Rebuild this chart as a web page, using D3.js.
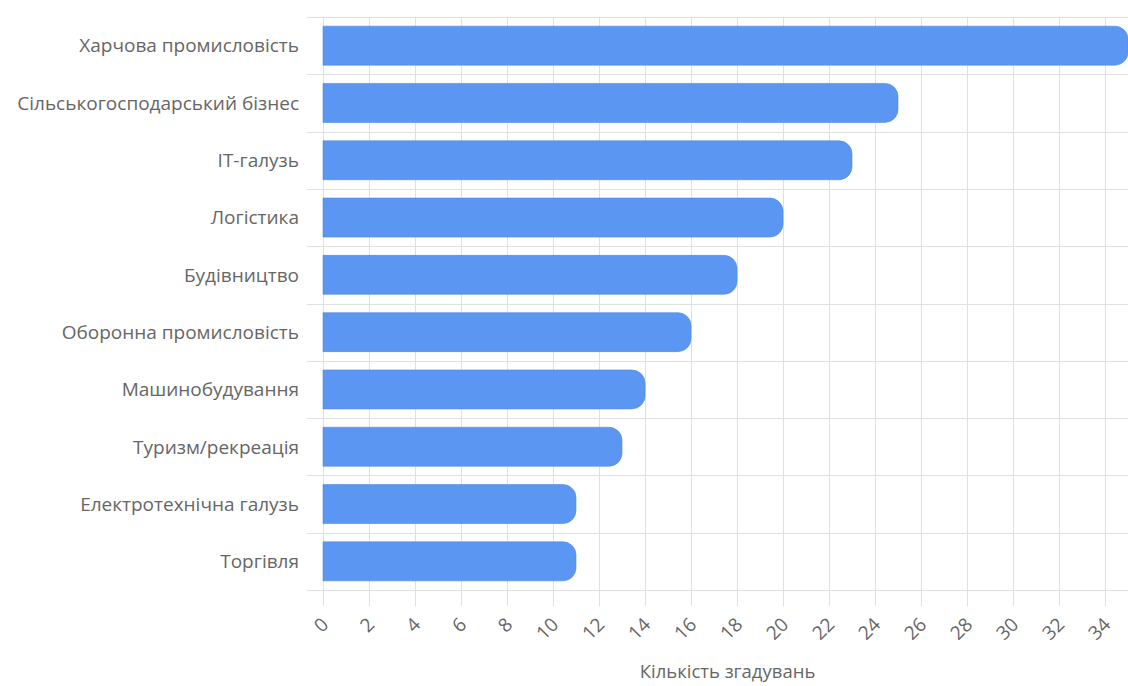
<!DOCTYPE html>
<html>
<head>
<meta charset="utf-8">
<script src="https://cdn.jsdelivr.net/npm/d3@7"></script>
<style>
  html, body { margin: 0; padding: 0; background: #fff; }
  svg { display: block; }
  text { font-family: "Open Sans", "Noto Sans", sans-serif; }
</style>
</head>
<body>
<svg id="chart" width="1128" height="686"></svg>
<script>
// Industries and number of mentions
const categories = [
  "Харчова промисловість",
  "Сільськогосподарський бізнес",
  "IT-галузь",
  "Логістика",
  "Будівництво",
  "Оборонна промисловість",
  "Машинобудування",
  "Туризм/рекреація",
  "Електротехнічна галузь",
  "Торгівля"
];
const mentions = [35, 25, 23, 20, 18, 16, 14, 13, 11, 11];
const xTicks = [0, 2, 4, 6, 8, 10, 12, 14, 16, 18, 20, 22, 24, 26, 28, 30, 32, 34];
const xTitle = "Кількість згадувань";

const svg = d3.select("#chart");
const margin = { top: 17, right: 0, bottom: 96, left: 323 };
const W = 1128, H = 686;
const innerW = W - margin.left - margin.right;
const innerH = H - margin.top - margin.bottom;

const x = d3.scaleLinear().domain([0, 35]).range([0, innerW]);
const y = d3.scaleBand().domain(categories).range([0, innerH]).paddingInner(0.32).paddingOuter(0.16);

const g = svg.append("g").attr("transform", `translate(${margin.left},${margin.top})`);
const gridColor = "#e0e0e0";
const textColor = "#666";
const tickLen = 16;

// vertical grid lines (with tick extension below the plot)
g.append("g").selectAll("line").data(xTicks).join("line")
  .attr("x1", d => x(d) + 0.5).attr("x2", d => x(d) + 0.5)
  .attr("y1", 0).attr("y2", innerH + tickLen)
  .attr("stroke", gridColor).attr("stroke-width", 1);

// horizontal band boundaries (with tick extension left of the plot)
const boundaries = d3.range(categories.length + 1).map(i => i * innerH / categories.length);
g.append("g").selectAll("line").data(boundaries).join("line")
  .attr("x1", -tickLen).attr("x2", innerW)
  .attr("y1", d => Math.round(d) + 0.5).attr("y2", d => Math.round(d) + 0.5)
  .attr("stroke", gridColor).attr("stroke-width", 1);

// bars with rounded right end
const r = 13;
function barPath(w, h) {
  const rr = Math.min(r, h / 2, w);
  return `M0,0 H${w - rr} A${rr},${rr} 0 0 1 ${w},${rr} V${h - rr} A${rr},${rr} 0 0 1 ${w - rr},${h} H0 Z`;
}
g.append("g").selectAll("path").data(categories).join("path")
  .attr("transform", (d) => `translate(0,${y(d)})`)
  .attr("d", (d, i) => barPath(x(mentions[i]), y.bandwidth()))
  .attr("fill", "#5b96f2")
  .attr("stroke", "#4f88e0")
  .attr("stroke-width", 0.6);

// category labels
g.append("g").selectAll("text").data(categories).join("text")
  .attr("x", -24)
  .attr("y", d => y(d) + y.bandwidth() / 2)
  .attr("dy", "0.36em")
  .attr("text-anchor", "end")
  .attr("fill", textColor)
  .attr("font-size", 19)
  .text(d => d);

// rotated x tick labels
g.append("g").selectAll("text").data(xTicks).join("text")
  .attr("transform", d => `translate(${x(d) + 2},${innerH + 31}) rotate(-45)`)
  .attr("text-anchor", "end")
  .attr("dy", "0.35em")
  .attr("fill", textColor)
  .attr("font-size", 19)
  .text(d => d);

// x axis title
svg.append("text")
  .attr("x", margin.left + innerW / 2 + 2)
  .attr("y", 678)
  .attr("text-anchor", "middle")
  .attr("fill", textColor)
  .attr("font-size", 18.5)
  .text(xTitle);
</script>
</body>
</html>
